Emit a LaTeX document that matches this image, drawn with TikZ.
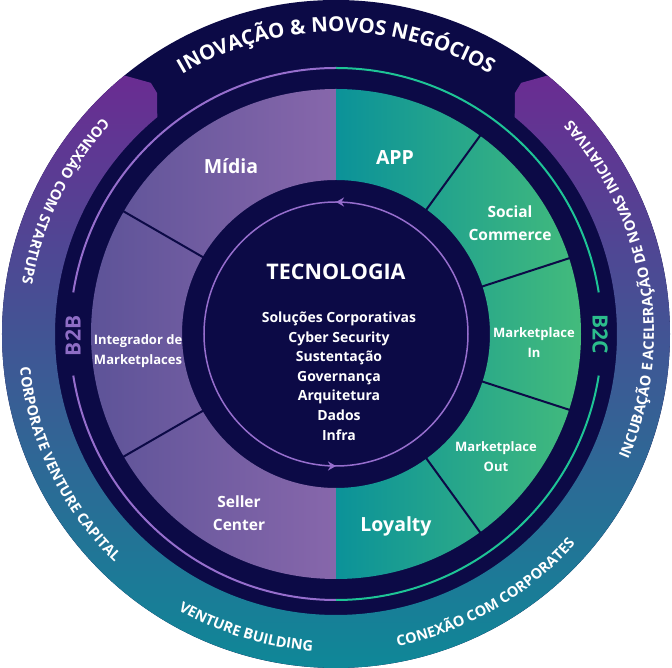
\documentclass[tikz,border=0pt]{standalone}
\usepackage{fontspec}
\setmainfont{Open Sans}
\usetikzlibrary{arrows.meta,decorations.text,decorations.markings}

\definecolor{navy}{RGB}{12,10,70}
\definecolor{ringtop}{RGB}{106,44,146}
\definecolor{ringmid}{RGB}{62,80,146}
\definecolor{ringbot}{RGB}{8,142,152}
\definecolor{lilacdark}{RGB}{93,83,152}
\definecolor{lilaclight}{RGB}{135,103,171}
\definecolor{tealdark}{RGB}{11,146,153}
\definecolor{greenlight}{RGB}{67,187,124}
\definecolor{lilacline}{RGB}{150,110,205}
\definecolor{greenline}{RGB}{30,196,150}
\definecolor{btwob}{RGB}{142,109,197}
\definecolor{btwoc}{RGB}{44,189,140}

\newcommand{\ringfont}{\fontsize{14.5}{14.5}\selectfont\bfseries}
\newcommand{\titlefont}{\fontsize{20.5}{20.5}\selectfont\bfseries}

\begin{document}
\begin{tikzpicture}[x=1pt,y=1pt,
    seglabel/.style={text=white,align=center,inner sep=0pt},
    biglabel/.style={seglabel,font=\fontsize{19.5}{23}\selectfont\bfseries},
    midlabel/.style={seglabel,font=\fontsize{15.5}{23}\selectfont\bfseries},
    smalllabel/.style={seglabel,font=\fontsize{13}{20}\selectfont\bfseries},
    divider/.style={navy,line width=2pt},
    ringtext/.style={decorate,decoration={text along path,text color=white,text align=center,text={|\ringfont|#1}}}]
    \useasboundingbox (-336,-334) rectangle (336,334);

    % Navy base
    \fill[navy] (0,0) circle[radius=334pt];

    % Outer gradient ring with the two tabs
    \shade[top color=ringtop,middle color=ringmid,bottom color=ringbot]
        (129.3:334pt) arc[start angle=129.3,end angle=410.7,radius=334pt]
        -- (413.6:312pt) -- (413.4:300pt) -- (410.5:281pt)
        arc[start angle=410.5,end angle=129.5,radius=281pt]
        -- (126.6:300pt) -- (126.4:312pt) -- cycle;

    % Thin arcs round B2B and B2C
    \draw[lilacline,line width=2pt] (90:266pt) arc[start angle=90,end angle=171,radius=266pt];
    \draw[lilacline,line width=2pt] (189:266pt) arc[start angle=189,end angle=270,radius=266pt];
    \draw[greenline,line width=2pt] (90:266pt) arc[start angle=90,end angle=9,radius=266pt];
    \draw[greenline,line width=2pt] (-9:266pt) arc[start angle=-9,end angle=-90,radius=266pt];

    % Segments
    \shade[left color=lilacdark,right color=lilaclight]
        (90:245pt) arc[start angle=90,end angle=270,radius=245pt]
        -- (270:154pt) arc[start angle=270,end angle=90,radius=154pt] -- cycle;
    \shade[left color=tealdark,right color=greenlight]
        (-90:245pt) arc[start angle=-90,end angle=90,radius=245pt]
        -- (90:154pt) arc[start angle=90,end angle=-90,radius=154pt] -- cycle;
    \foreach \a in {150,210,54,18,-18,-54}
        \draw[divider] (\a:153pt) -- (\a:246pt);

    % Circle round the core
    \draw[lilacline,line width=1.5pt,postaction={decorate},
        decoration={markings,
            mark=at position 0.25 with {\arrow{Stealth[length=8pt,width=9pt]}},
            mark=at position 0.75 with {\arrow{Stealth[length=8pt,width=9pt]}}}]
        (0,0) circle[radius=132pt];

    % Core
    \node[text=white,font=\fontsize{21.5}{24}\selectfont\bfseries] (tecno) at (0,62) {TECNOLOGIA};
    \node[text=white,align=center,font=\fontsize{14}{19.6}\selectfont\bfseries] (techlist) at (3,-42)
        {Soluções Corporativas\\Cyber Security\\Sustentação\\Governança\\Arquitetura\\Dados\\Infra};

    % Segment labels
    \node[biglabel] (midia) at (-105,168) {Mídia};
    \node[smalllabel] (integrador) at (-198,-17) {Integrador de\\Marketplaces};
    \node[midlabel] (seller) at (-97,-179) {Seller\\Center};
    \node[biglabel] (app) at (59,176) {APP};
    \node[midlabel] (social) at (174,111) {Social\\Commerce};
    \node[smalllabel] (mktin) at (198,-9) {Marketplace\\In};
    \node[smalllabel] (mktout) at (160,-123) {Marketplace\\Out};
    \node[biglabel] (loyalty) at (60,-192) {Loyalty};

    % B2B and B2C
    \node[rotate=90,text=btwob,font=\fontsize{21}{24}\selectfont\bfseries] (btob) at (-263,-2) {B2B};
    \node[rotate=-90,text=btwoc,font=\fontsize{21}{24}\selectfont\bfseries] (btoc) at (264,0) {B2C};

    % Texts round the outer ring
    \path[decorate,decoration={text along path,text color=white,text align=center,
        text={|\titlefont|INOVAÇÃO {\&} NOVOS NEGÓCIOS}}]
        (130:302pt) arc[start angle=130,end angle=50,radius=302pt];
    \path[ringtext={CONEXÃO COM STARTUPS}] (124:318pt) arc[start angle=124,end angle=184,radius=318pt];
    \path[ringtext={CORPORATE VENTURE CAPITAL}] (176:318pt) arc[start angle=176,end angle=236,radius=318pt];
    \path[ringtext={VENTURE BUILDING}] (228:318pt) arc[start angle=228,end angle=278,radius=318pt];
    \path[ringtext={CONEXÃO COM CORPORATES}] (270:318pt) arc[start angle=270,end angle=330,radius=318pt];
    \path[ringtext={INCUBAÇÃO E ACELERAÇÃO DE NOVAS INICIATIVAS}] (-30:318pt) arc[start angle=-30,end angle=49,radius=318pt];
\end{tikzpicture}
\end{document}
